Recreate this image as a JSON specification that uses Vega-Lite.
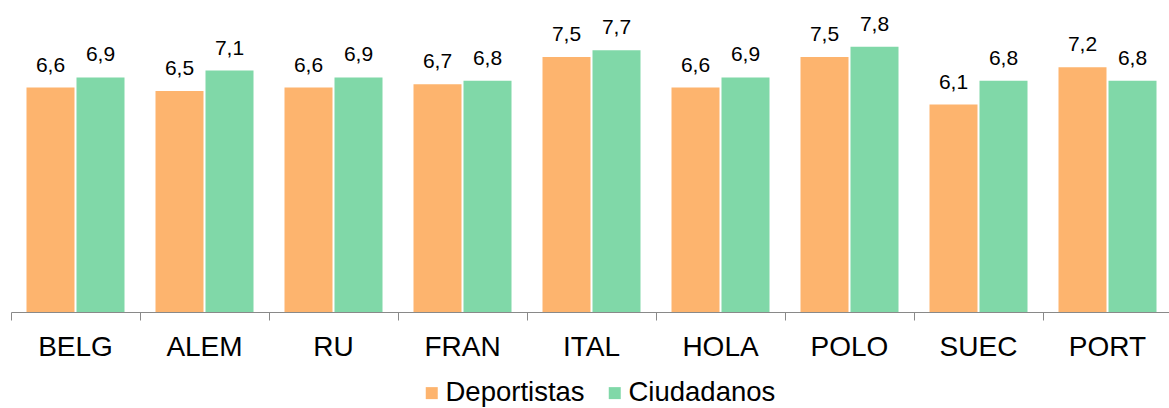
{
  "$schema": "https://vega.github.io/schema/vega-lite/v6.json",
  "width": 1161,
  "height": 306,
  "autosize": {"type": "none"},
  "padding": {"left": 11, "top": 6, "right": 0, "bottom": 96},
  "background": "white",
  "config": {
    "view": {"stroke": null},
    "font": "Liberation Sans"
  },
  "data": {
    "values": [
      {"pais": "BELG", "grupo": "Deportistas", "valor": 6.6, "etiqueta": "6,6"},
      {"pais": "BELG", "grupo": "Ciudadanos", "valor": 6.9, "etiqueta": "6,9"},
      {"pais": "ALEM", "grupo": "Deportistas", "valor": 6.5, "etiqueta": "6,5"},
      {"pais": "ALEM", "grupo": "Ciudadanos", "valor": 7.1, "etiqueta": "7,1"},
      {"pais": "RU", "grupo": "Deportistas", "valor": 6.6, "etiqueta": "6,6"},
      {"pais": "RU", "grupo": "Ciudadanos", "valor": 6.9, "etiqueta": "6,9"},
      {"pais": "FRAN", "grupo": "Deportistas", "valor": 6.7, "etiqueta": "6,7"},
      {"pais": "FRAN", "grupo": "Ciudadanos", "valor": 6.8, "etiqueta": "6,8"},
      {"pais": "ITAL", "grupo": "Deportistas", "valor": 7.5, "etiqueta": "7,5"},
      {"pais": "ITAL", "grupo": "Ciudadanos", "valor": 7.7, "etiqueta": "7,7"},
      {"pais": "HOLA", "grupo": "Deportistas", "valor": 6.6, "etiqueta": "6,6"},
      {"pais": "HOLA", "grupo": "Ciudadanos", "valor": 6.9, "etiqueta": "6,9"},
      {"pais": "POLO", "grupo": "Deportistas", "valor": 7.5, "etiqueta": "7,5"},
      {"pais": "POLO", "grupo": "Ciudadanos", "valor": 7.8, "etiqueta": "7,8"},
      {"pais": "SUEC", "grupo": "Deportistas", "valor": 6.1, "etiqueta": "6,1"},
      {"pais": "SUEC", "grupo": "Ciudadanos", "valor": 6.8, "etiqueta": "6,8"},
      {"pais": "PORT", "grupo": "Deportistas", "valor": 7.2, "etiqueta": "7,2"},
      {"pais": "PORT", "grupo": "Ciudadanos", "valor": 6.8, "etiqueta": "6,8"}
    ]
  },
  "encoding": {
    "x": {
      "field": "pais",
      "type": "nominal",
      "sort": null,
      "scale": {"paddingInner": 0, "paddingOuter": 0},
      "axis": {
        "title": null,
        "labelAngle": 0,
        "labelFontSize": 28,
        "labelColor": "#000000",
        "labelPadding": 13,
        "bandPosition": 0,
        "tickSize": 8,
        "tickColor": "#898989",
        "domainColor": "#898989",
        "tickWidth": 1,
        "domainWidth": 1
      }
    },
    "xOffset": {
      "field": "grupo",
      "type": "nominal",
      "sort": ["Deportistas", "Ciudadanos"],
      "scale": {"paddingInner": 0.04, "paddingOuter": 0.31}
    },
    "y": {
      "field": "valor",
      "type": "quantitative",
      "scale": {"domain": [0, 9], "nice": false},
      "axis": null
    }
  },
  "layer": [
    {
      "mark": {"type": "bar"},
      "encoding": {
        "color": {
          "field": "grupo",
          "type": "nominal",
          "sort": ["Deportistas", "Ciudadanos"],
          "scale": {"domain": ["Deportistas", "Ciudadanos"], "range": ["#FDB46E", "#80D8A8"]},
          "legend": {
            "title": null,
            "orient": "none",
            "direction": "horizontal",
            "legendX": 407,
            "legendY": 373,
            "padding": 0,
            "symbolType": "square",
            "symbolSize": 144,
            "symbolStrokeWidth": 0,
            "symbolOpacity": 1,
            "labelFontSize": 27.5,
            "labelColor": "#000000",
            "labelOffset": 0,
            "columnPadding": 16
          }
        }
      }
    },
    {
      "mark": {"type": "text", "baseline": "alphabetic", "dy": -16, "fontSize": 21, "color": "#000000"},
      "encoding": {
        "text": {"field": "etiqueta"}
      }
    }
  ]
}
